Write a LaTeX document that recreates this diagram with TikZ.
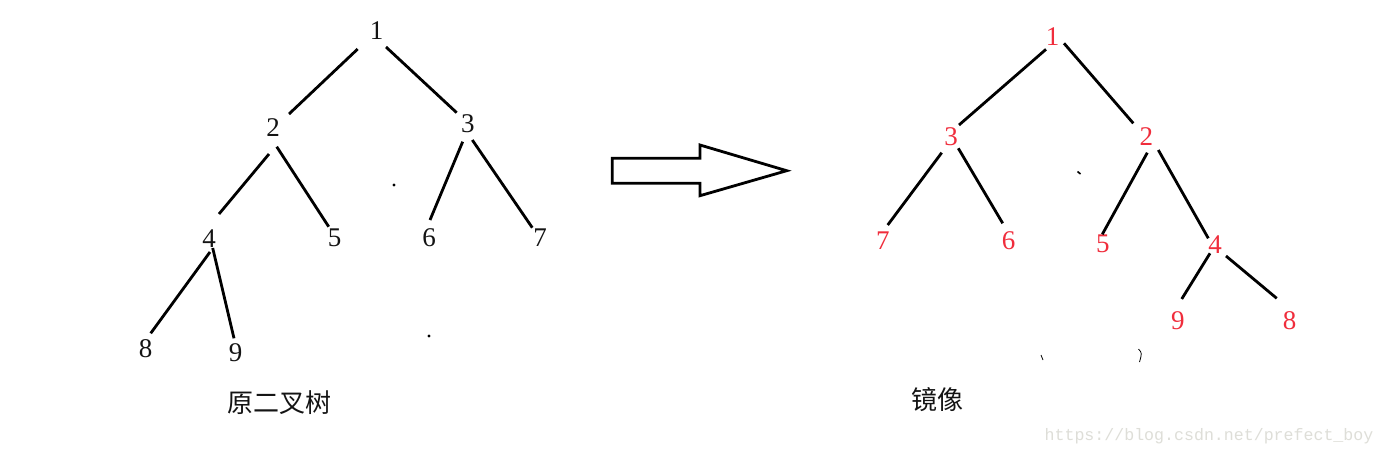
\documentclass[tikz,border=0pt]{standalone}
\usepackage{fontspec}
\setmainfont{Liberation Serif}
\newfontfamily\cjk{Noto Sans CJK SC}
\newfontfamily\wmfont{Liberation Mono}
\usetikzlibrary{calc}
\definecolor{nred}{RGB}{240,45,60}
\definecolor{nblack}{RGB}{20,20,20}
\definecolor{wmgray}{RGB}{222,222,216}
\tikzset{
  num/.style={inner sep=0pt, font=\fontsize{27}{27}\selectfont, text=nblack},
  rnum/.style={num, text=nred},
  captext/.style={inner sep=0pt, font=\cjk\fontsize{26}{26}\selectfont, text=nblack},
  edge/.style={line width=2.8pt, black},
  speck/.style={fill=black, draw=none},
}
\begin{document}
\begin{tikzpicture}[x=1pt,y=-1pt]
\useasboundingbox (0,0) rectangle (1386,456);
\fill[white] (0,0) rectangle (1386,456);

% ---------- original tree ----------
\node[num] (l1) at (376.7,30.7) {1};
\node[num] (l2) at (273,127.8) {2};
\node[num] (l3) at (467.8,124) {3};
\node[num] (l4) at (209,239) {4};
\node[num] (l5) at (334.5,238) {5};
\node[num] (l6) at (429,238) {6};
\node[num] (l7) at (540,238) {7};
\node[num] (l8) at (145.7,349) {8};
\node[num] (l9) at (235.5,352.5) {9};
\node[captext] (lcap) at (279.7,402.5) {原二叉树};

\draw[edge] ($(l1.center)+(-19,18.3)$) -- ($(l2.center)+(16,-13.8)$);
\draw[edge] ($(l1.center)+(9.3,16.3)$) -- ($(l3.center)+(-11.1,-11.3)$);
\draw[edge] ($(l2.center)+(-4,26.2)$) -- ($(l4.center)+(10,-25)$);
\draw[edge] ($(l2.center)+(3.7,18.9)$) -- ($(l5.center)+(-5.8,-11.3)$);
\draw[edge] ($(l3.center)+(-5.1,17.7)$) -- ($(l6.center)+(1,-18)$);
\draw[edge] ($(l3.center)+(4.5,16)$) -- ($(l7.center)+(-7.7,-10.3)$);
\draw[edge] ($(l4.center)+(1,13)$) -- ($(l8.center)+(5,-15.7)$);
\draw[edge] ($(l4.center)+(3.7,9)$) -- ($(l9.center)+(-1.5,-14.2)$);

\fill[speck] (394,185) circle (1.6);
\fill[speck] (429,336) circle (1.6);

% ---------- arrow ----------
\draw[line width=2.8pt, miter limit=10] (612.3,158.3) -- (700,158.3) -- (700,145) -- (786.7,170.7)
  -- (700,195.7) -- (700,183.3) -- (612.3,183.3) -- cycle;

% ---------- mirror tree ----------
\node[rnum] (r1) at (1052.5,36.2) {1};
\node[rnum] (r3) at (951,136.5) {3};
\node[rnum] (r2) at (1146.3,136.2) {2};
\node[rnum] (r7) at (882.8,240.3) {7};
\node[rnum] (r6) at (1008.5,240.3) {6};
\node[rnum] (r5) at (1102.8,244.2) {5};
\node[rnum] (r4) at (1215,244.2) {4};
\node[rnum] (r9) at (1177.8,320.8) {9};
\node[rnum] (r8) at (1289.5,320.8) {8};
\node[captext] (rcap) at (937.5,400) {镜像};

\draw[edge] ($(r1.center)+(-6.5,13.1)$) -- ($(r3.center)+(8,-11.5)$);
\draw[edge] ($(r1.center)+(11.5,7.1)$) -- ($(r2.center)+(-13,-12.9)$);
\draw[edge] ($(r3.center)+(-9.3,16.2)$) -- ($(r7.center)+(4.9,-15.3)$);
\draw[edge] ($(r3.center)+(7.3,11.8)$) -- ($(r6.center)+(-5.8,-17)$);
\draw[edge] ($(r2.center)+(1,16.5)$) -- ($(r5.center)+(-0.5,-9.9)$);
\draw[edge] ($(r2.center)+(12,13.8)$) -- ($(r4.center)+(-6.7,-5.9)$);
\draw[edge] ($(r4.center)+(-5,9.1)$) -- ($(r9.center)+(3.9,-21.8)$);
\draw[edge] ($(r4.center)+(11,11.8)$) -- ($(r8.center)+(-12.8,-22.5)$);

\draw[line width=1.6pt] (1077.5,171.5) -- (1080.5,174);
\draw[line width=0.8pt] (1041,355) -- (1043,360);
\draw[line width=0.8pt] (1138.5,349) .. controls (1142,353) .. (1139.5,362);

% ---------- watermark ----------
\node[inner sep=0pt, font=\wmfont\fontsize{16.6}{16.6}\selectfont, text=wmgray] (wm) at (1209,436) {https://blog.csdn.net/prefect\_boy};
\end{tikzpicture}
\end{document}
